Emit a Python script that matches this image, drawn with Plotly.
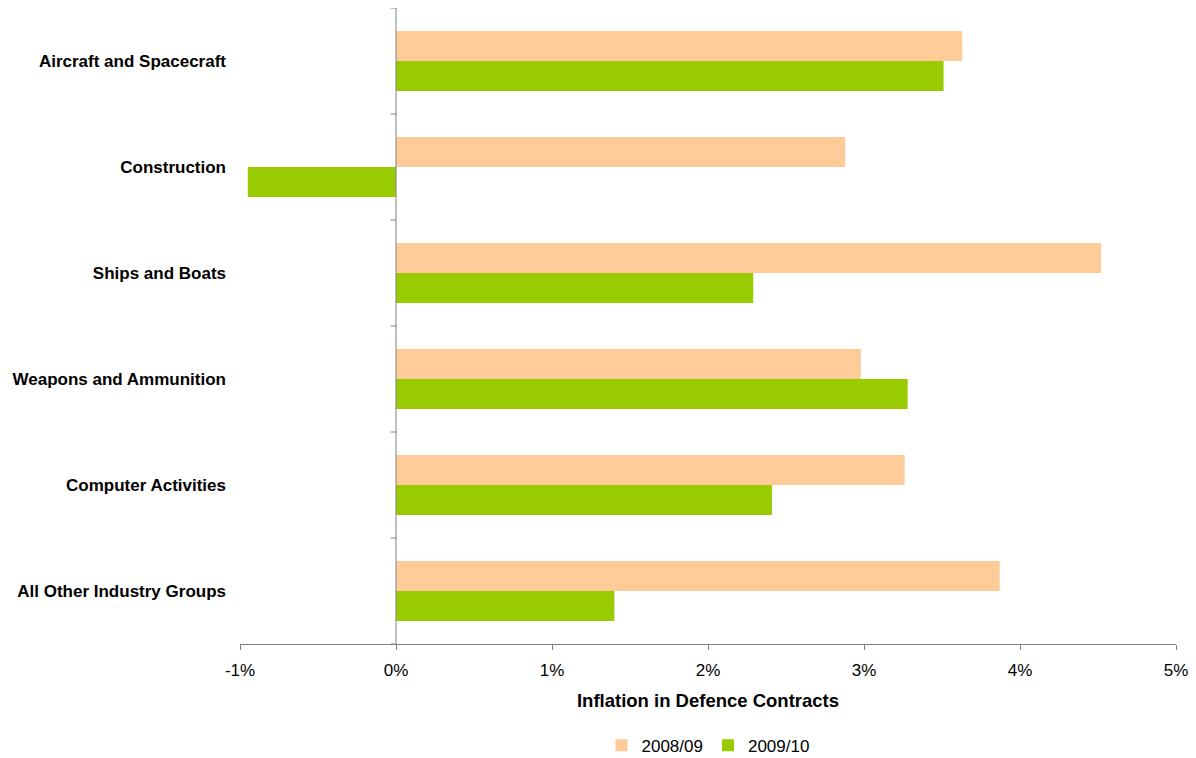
import plotly.graph_objects as go

categories = ["Aircraft and Spacecraft", "Construction", "Ships and Boats",
              "Weapons and Ammunition", "Computer Activities", "All Other Industry Groups"]
series_names = ["2008/09", "2009/10"]
values_0809 = [3.63, 2.88, 4.52, 2.98, 3.26, 3.87]
values_0910 = [3.51, -0.95, 2.29, 3.28, 2.41, 1.40]
x_ticks = [-1, 0, 1, 2, 3, 4, 5]
x_title = "Inflation in Defence Contracts"

colors = ["#FFCC99", "#99CC00"]
font_family = "Liberation Sans, Arial, sans-serif"

fig = go.Figure()
for name, vals, col in zip(series_names, [values_0809, values_0910], colors):
    fig.add_trace(go.Bar(
        y=categories, x=vals, name=name, orientation="h",
        marker=dict(color=col, line=dict(width=0)),
    ))

axis_color = "#808080"
shapes = [dict(type="line", xref="x", yref="y", x0=0, x1=0, y0=-0.5, y1=len(categories) - 0.5,
               line=dict(color=axis_color, width=1))]
for i in range(len(categories) + 1):
    shapes.append(dict(type="line", xref="x", yref="y", x0=-0.035, x1=0,
                       y0=i - 0.5, y1=i - 0.5, line=dict(color=axis_color, width=1)))

fig.update_layout(
    width=1188, height=750,
    margin=dict(l=232, r=20, t=0, b=114, pad=0, autoexpand=False),
    paper_bgcolor="white", plot_bgcolor="white",
    barmode="group", bargap=0.434, bargroupgap=0,
    font=dict(family=font_family, size=17, color="black"),
    shapes=shapes,
    xaxis=dict(
        range=[-1, 5], tickvals=x_ticks, ticktext=[f"{t}%" for t in x_ticks],
        showgrid=False, zeroline=False, showline=True, linecolor=axis_color, linewidth=1,
        ticks="outside", ticklen=5, tickcolor=axis_color,
        ticklabelstandoff=6,
        tickfont=dict(size=17),
        title=dict(text=f"<b>{x_title}</b>", font=dict(size=18.5), standoff=14),
        automargin=False,
    ),
    yaxis=dict(
        categoryorder="array", categoryarray=categories,
        range=[len(categories) - 0.5, -0.5],
        showgrid=False, zeroline=False, showline=False, ticks="",
        ticklabelstandoff=13,
        tickfont=dict(size=17),
        tickvals=categories, ticktext=[f"<b>{c}</b>" for c in categories],
        automargin=False,
    ),
    legend=dict(orientation="h", x=0.5, xanchor="center", y=-0.16, yanchor="middle",
                font=dict(size=17), itemwidth=30, traceorder="normal"),
)

fig.write_html("out.html")
